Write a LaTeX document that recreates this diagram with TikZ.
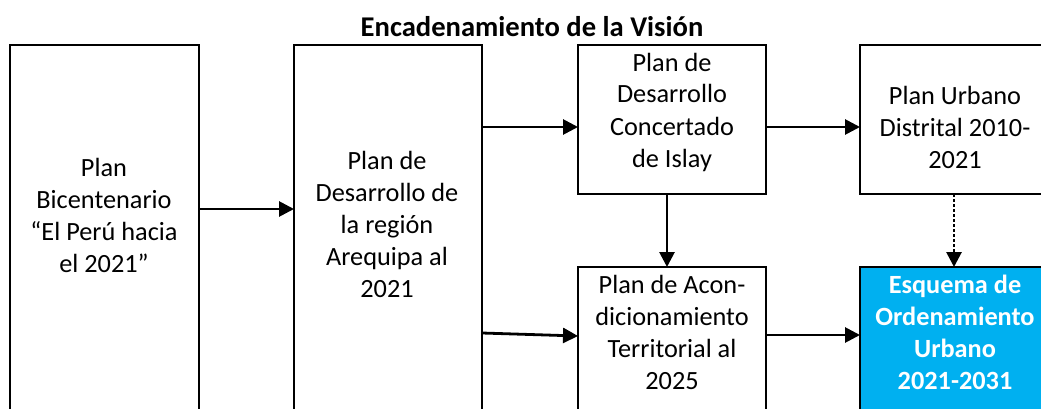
\documentclass[tikz,border=0pt]{standalone}
\usepackage{fontspec}
\setmainfont{Carlito}
\usetikzlibrary{arrows.meta}
\definecolor{eoblue}{HTML}{00B0F0}
\begin{document}
\begin{tikzpicture}[x=1pt,y=-1pt,
  box/.style={draw=black, line width=2.4pt, anchor=north west, inner sep=0pt, outer sep=0pt, minimum width=188pt},
  txt/.style={align=center, anchor=base, inner sep=0pt, font=\fontsize{26.3}{32}\selectfont},
  arr/.style={line width=2.8pt, -{Triangle[length=15pt,width=15pt]}},
  dotarr/.style={arr, dash pattern=on 2.6pt off 2.4pt},
]
\useasboundingbox (0,0) rectangle (1041,409);
\clip (0,0) rectangle (1041,409);
% title
\node[font=\bfseries\fontsize{28.6}{35}\selectfont, anchor=base, inner sep=0pt] (title) at (532,37) {Encadenamiento de la Visión};
% boxes
\node[box, minimum width=189pt, minimum height=400pt] (b1) at (10,45) {};
\node[box, minimum height=400pt] (b2) at (294,45) {};
\node[box, minimum height=149pt] (b3) at (578,45) {};
\node[box, minimum height=149pt] (b4) at (860,45) {};
\node[box, minimum height=200pt] (b5) at (578,267) {};
\node[box, fill=eoblue, minimum height=200pt] (b6) at (860,267) {};
% texts (anchored at the baseline of the last line)
\node[txt] (t1) at (104,272) {Plan\\Bicentenario\\“El Perú hacia\\el 2021”};
\node[txt] (t2) at (387,297) {Plan de\\Desarrollo de\\la región\\Arequipa al\\2021};
\node[txt] (t3) at (672,167) {Plan de\\Desarrollo\\Concertado\\de Islay};
\node[txt] (t4) at (955,168) {Plan Urbano\\Distrital 2010-\\2021};
\node[txt] (t5) at (672,389) {Plan de Acon-\\dicionamiento\\Territorial al\\2025};
\node[txt, text=white, font=\bfseries\fontsize{26.3}{32}\selectfont] (t6) at (955,389) {Esquema de\\Ordenamiento\\Urbano\\2021-2031};
% connector levels
\coordinate (y1) at (0,209);
\coordinate (y2) at (0,127);
\coordinate (y3a) at (0,333);
\coordinate (y3b) at (0,336);
\coordinate (y4) at (0,335);
\coordinate (x5) at (667,0);
\coordinate (x6) at (954,0);
% connectors
\draw[arr] (b1.east |- y1) -- (b2.west |- y1);
\draw[arr] (b2.east |- y2) -- (b3.west |- y2);
\draw[arr] (b2.east |- y3a) -- (b5.west |- y3b);
\draw[arr] (b3.east |- y2) -- (b4.west |- y2);
\draw[arr] (b3.south -| x5) -- (b5.north -| x5);
\draw[dotarr] (b4.south -| x6) -- (b6.north -| x6);
\draw[arr] (b5.east |- y4) -- (b6.west |- y4);
\end{tikzpicture}
\end{document}
